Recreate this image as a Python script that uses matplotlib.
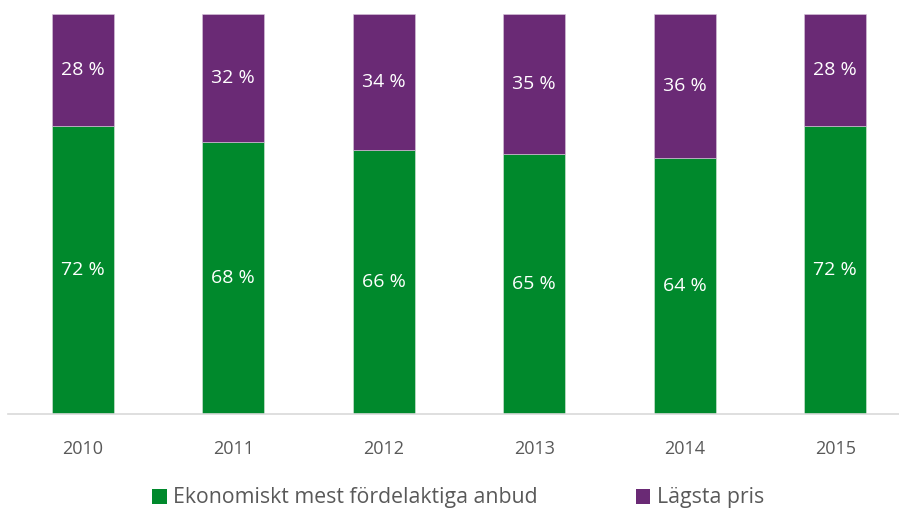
import matplotlib
matplotlib.use("Agg")
import matplotlib.pyplot as plt
import numpy as np

years = ["2010", "2011", "2012", "2013", "2014", "2015"]
ekonomiskt = [72, 68, 66, 65, 64, 72]
lagsta = [28, 32, 34, 35, 36, 28]
series_names = ["Ekonomiskt mest fördelaktiga anbud", "Lägsta pris"]

green = "#00892c"
purple = "#6a2a75"
gray_text = "#595959"

plt.rcParams['font.family'] = ['Open Sans', 'DejaVu Sans']

fig = plt.figure(figsize=(8.99, 5.12), dpi=100)
# axes in pixel terms: left 7.5, right edge of figure, baseline 413.5, top 14
W, H = 899, 512
ax = fig.add_axes([7.5 / W, (H - 413.5) / H, (W - 7.5) / W, 399.5 / H])

x = np.arange(len(years))
width = 0.415
b1 = ax.bar(x, ekonomiskt, width, color=green, edgecolor="#d9e8dc", linewidth=0.4,
            label=series_names[0], zorder=2)
b2 = ax.bar(x, lagsta, width, bottom=ekonomiskt, color=purple, edgecolor="#d8c8dc",
            linewidth=0.4, label=series_names[1], zorder=2)

for i in range(len(years)):
    ax.text(x[i], ekonomiskt[i] / 2, f"{ekonomiskt[i]} %", ha="center", va="center",
            color="white", fontsize=14)
    ax.text(x[i], ekonomiskt[i] + lagsta[i] / 2, f"{lagsta[i]} %", ha="center", va="center",
            color="white", fontsize=14)

ax.set_xlim(-0.5, -0.5 + (W - 7.5) / 150.5)
ax.set_ylim(0, 100)
ax.set_xticks(x)
ax.set_xticklabels(years, color=gray_text, fontsize=13)
ax.tick_params(axis="x", length=0, pad=19)
ax.set_yticks([])
for s in ["top", "right", "left"]:
    ax.spines[s].set_visible(False)
ax.spines["bottom"].set_color("#d9d9d9")
ax.spines["bottom"].set_linewidth(1.2)
ax.set_facecolor("none")

leg = fig.legend(handles=[b1, b2], loc="center", bbox_to_anchor=(458 / W, (H - 498) / H),
                 ncol=2, frameon=False, fontsize=15.3, handlelength=0.7, handleheight=0.7,
                 handletextpad=0.3, columnspacing=4.6, borderaxespad=0)
for t in leg.get_texts():
    t.set_color(gray_text)
for h in leg.legend_handles:
    h.set_edgecolor("none")

fig.savefig("out.png", dpi=100)
